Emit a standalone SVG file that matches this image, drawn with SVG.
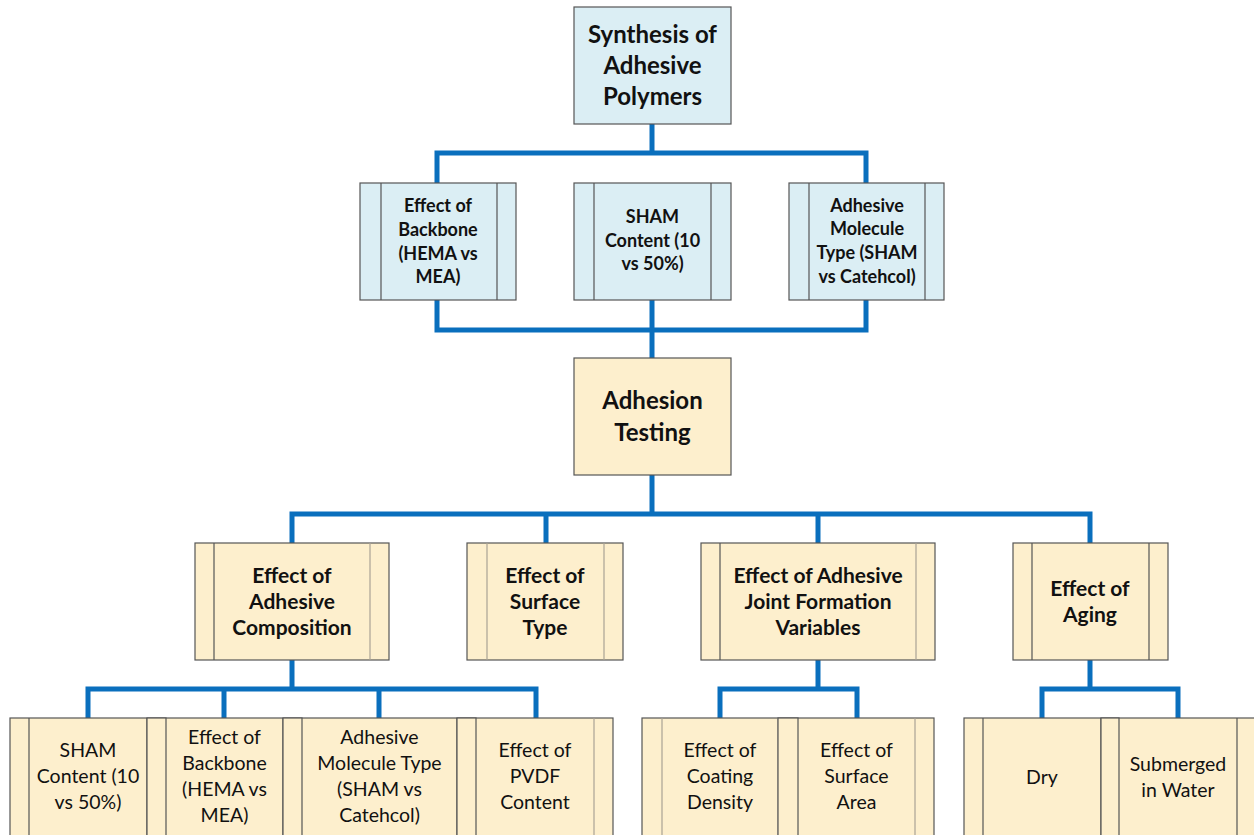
<svg xmlns="http://www.w3.org/2000/svg" width="1254" height="835" viewBox="0 0 1254 835">
<style>
.blue{fill:#dbeef4;stroke:#555;stroke-width:1.2}
.tan{fill:#fdefcd;stroke:#555;stroke-width:1.2}
.in{stroke:#555;stroke-width:1.2;fill:none}
.inl{stroke:#aaa295;stroke-width:1.2;fill:none}
.conn{stroke:#0a6fbd;stroke-width:5;fill:none;stroke-linejoin:miter;stroke-linecap:butt}
text{font-family:Lato,"Liberation Sans",sans-serif;fill:#111;text-anchor:middle}
.t1{font-size:24px;font-weight:bold}
.t2{font-size:18px;font-weight:bold}
.t3{font-size:21px;font-weight:bold}
.t4{font-size:19.5px}
</style>
<rect width="1254" height="835" fill="#fff"/>
<g id="connectors">
<path class="conn" d="M652,124 V155 M437,183 V153 H866 V183"/>
<path class="conn" d="M437,300 V330 H866 V300 M652,300 V358"/>
<path class="conn" d="M652,475 V514 M292,543 V514 H1090 V543 M546,514 V543 M818,514 V543"/>
<path class="conn" d="M292,660 V689 M88,718 V689 H536 V718 M224,689 V718 M379,689 V718"/>
<path class="conn" d="M818,660 V689 M720,718 V689 H857 V718"/>
<path class="conn" d="M1090,660 V689 M1042,718 V689 H1178 V718"/>
</g>
<g id="synthesis">
<rect class="blue" x="574" y="7" width="157" height="117"/>
<text class="t1" x="652.5" y="43">Synthesis of</text>
<text class="t1" x="652.5" y="74">Adhesive</text>
<text class="t1" x="652.5" y="105">Polymers</text>
</g>
<g id="backbone">
<rect class="blue" x="360" y="183" width="156" height="117"/>
<path class="in" d="M381,183 V300 M497,183 V300"/>
<text class="t2" x="438" y="212">Effect of</text>
<text class="t2" x="438" y="236">Backbone</text>
<text class="t2" x="438" y="260">(HEMA vs</text>
<text class="t2" x="438" y="283">MEA)</text>
</g>
<g id="sham">
<rect class="blue" x="574" y="183" width="157" height="117"/>
<path class="in" d="M594,183 V300 M711,183 V300"/>
<text class="t2" x="652.5" y="223">SHAM</text>
<text class="t2" x="652.5" y="247">Content (10</text>
<text class="t2" x="652.5" y="270">vs 50%)</text>
</g>
<g id="molecule">
<rect class="blue" x="789" y="183" width="155" height="117"/>
<path class="in" d="M809,183 V300 M925,183 V300"/>
<text class="t2" x="867" y="212">Adhesive</text>
<text class="t2" x="867" y="235">Molecule</text>
<text class="t2" x="867" y="259">Type (SHAM</text>
<text class="t2" x="867" y="283">vs Catehcol)</text>
</g>
<g id="testing">
<rect class="tan" x="574" y="358" width="157" height="117"/>
<text class="t1" x="652.5" y="409">Adhesion</text>
<text class="t1" x="652.5" y="441">Testing</text>
</g>
<g id="composition">
<rect class="tan" x="195" y="543" width="194" height="117"/>
<path class="in" d="M214,543 V660"/>
<path class="inl" d="M370,543 V660"/>
<text class="t3" x="292" y="583">Effect of</text>
<text class="t3" x="292" y="609">Adhesive</text>
<text class="t3" x="292" y="635">Composition</text>
</g>
<g id="surface">
<rect class="tan" x="467" y="543" width="156" height="117"/>
<path class="inl" d="M487,543 V660 M604,543 V660"/>
<text class="t3" x="545" y="583">Effect of</text>
<text class="t3" x="545" y="609">Surface</text>
<text class="t3" x="545" y="635">Type</text>
</g>
<g id="joint">
<rect class="tan" x="701" y="543" width="234" height="117"/>
<path class="in" d="M720,543 V660"/>
<path class="inl" d="M916,543 V660"/>
<text class="t3" x="818" y="583">Effect of Adhesive</text>
<text class="t3" x="818" y="609">Joint Formation</text>
<text class="t3" x="818" y="635">Variables</text>
</g>
<g id="aging">
<rect class="tan" x="1013" y="543" width="155" height="117"/>
<path class="in" d="M1032,543 V660 M1149,543 V660"/>
<text class="t3" x="1090" y="596">Effect of</text>
<text class="t3" x="1090" y="622">Aging</text>
</g>
<g id="b-sham">
<rect class="tan" x="10" y="718" width="156" height="130"/>
<path class="in" d="M29,718 V848 M147,718 V848"/>
<text class="t4" x="88" y="757">SHAM</text>
<text class="t4" x="88" y="783">Content (10</text>
<text class="t4" x="88" y="809">vs 50%)</text>
</g>
<g id="b-backbone">
<rect class="tan" x="147" y="718" width="155" height="130"/>
<path class="in" d="M166,718 V848 M283,718 V848"/>
<text class="t4" x="224.5" y="744">Effect of</text>
<text class="t4" x="224.5" y="770">Backbone</text>
<text class="t4" x="224.5" y="796">(HEMA vs</text>
<text class="t4" x="224.5" y="822">MEA)</text>
</g>
<g id="b-molecule">
<rect class="tan" x="283" y="718" width="193" height="130"/>
<path class="in" d="M302,718 V848 M457,718 V848"/>
<text class="t4" x="379.5" y="744">Adhesive</text>
<text class="t4" x="379.5" y="770">Molecule Type</text>
<text class="t4" x="379.5" y="796">(SHAM vs</text>
<text class="t4" x="379.5" y="822">Catehcol)</text>
</g>
<g id="b-pvdf">
<rect class="tan" x="457" y="718" width="156" height="130"/>
<path class="in" d="M476,718 V848"/>
<path class="inl" d="M594,718 V848"/>
<text class="t4" x="535" y="757">Effect of</text>
<text class="t4" x="535" y="783">PVDF</text>
<text class="t4" x="535" y="809">Content</text>
</g>
<g id="b-coating">
<rect class="tan" x="642" y="718" width="156" height="130"/>
<path class="inl" d="M662,718 V848 M778,718 V848"/>
<text class="t4" x="720" y="757">Effect of</text>
<text class="t4" x="720" y="783">Coating</text>
<text class="t4" x="720" y="809">Density</text>
</g>
<g id="b-area">
<rect class="tan" x="778" y="718" width="156" height="130"/>
<path class="in" d="M798,718 V848"/>
<path class="inl" d="M915,718 V848"/>
<text class="t4" x="856.5" y="757">Effect of</text>
<text class="t4" x="856.5" y="783">Surface</text>
<text class="t4" x="856.5" y="809">Area</text>
</g>
<g id="b-dry">
<rect class="tan" x="964" y="718" width="155" height="130"/>
<path class="in" d="M983,718 V848 M1101,718 V848"/>
<text class="t4" x="1042" y="784">Dry</text>
</g>
<g id="b-water">
<rect class="tan" x="1101" y="718" width="160" height="130"/>
<path class="in" d="M1119,718 V848 M1237,718 V848"/>
<text class="t4" x="1178" y="771">Submerged</text>
<text class="t4" x="1178" y="797">in Water</text>
</g>
</svg>
